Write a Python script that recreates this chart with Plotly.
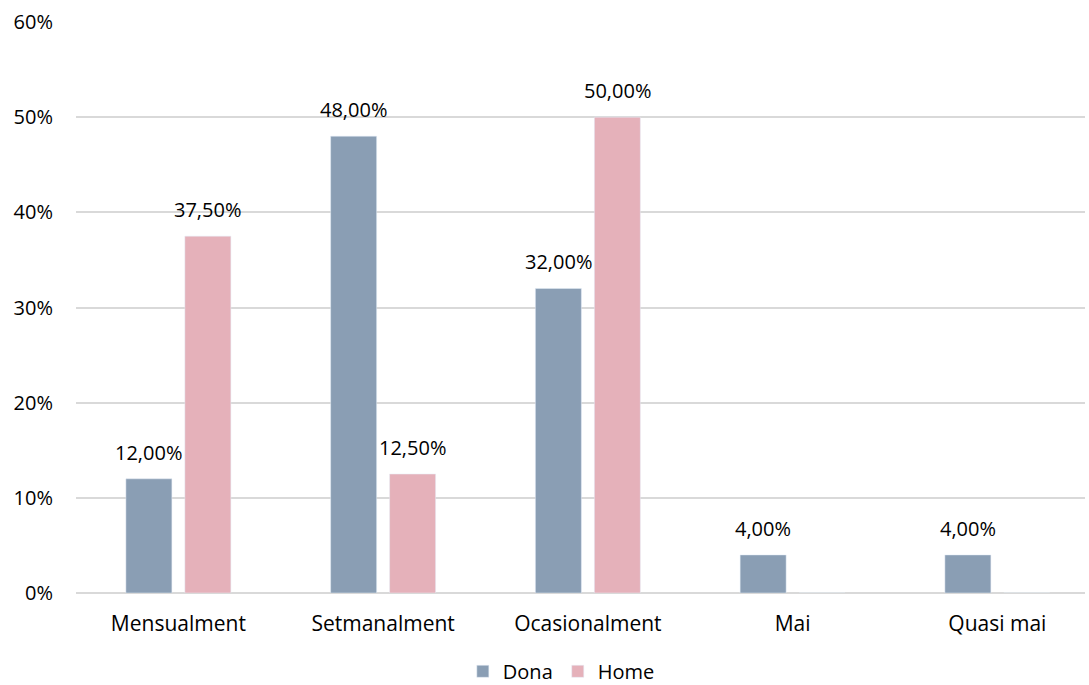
import plotly.graph_objects as go

categories = ["Mensualment", "Setmanalment", "Ocasionalment", "Mai", "Quasi mai"]
dona = [0.12, 0.48, 0.32, 0.04, 0.04]
home = [0.375, 0.125, 0.50, 0.0, 0.0]
y_ticks = [0, 0.1, 0.2, 0.3, 0.4, 0.5, 0.6]
y_ticklabels = ["0%", "10%", "20%", "30%", "40%", "50%", "60%"]

DONA_C = "#8A9EB4"
HOME_C = "#E5B1BA"
FONT = "Open Sans"
FS = 20

def fmt(v):
    return f"{v*100:.2f}%".replace(".", ",")

fig = go.Figure()
fig.add_trace(go.Bar(name="Dona", x=categories, y=dona, marker_color=DONA_C))
fig.add_trace(go.Bar(name="Home", x=categories, y=home, marker_color=HOME_C))

annotations = []
for vals, shift in ((dona, -29.5), (home, 29.5)):
    for c, v in zip(categories, vals):
        if v > 0:
            annotations.append(dict(x=c, y=v, xref="x", yref="y", text=fmt(v),
                                    showarrow=False, xshift=shift, yshift=11,
                                    yanchor="bottom", xanchor="center",
                                    font=dict(family=FONT, size=FS, color="#000000")))

fig.update_layout(
    width=1089, height=685,
    margin=dict(l=76, r=4, t=22, b=92),
    plot_bgcolor="white", paper_bgcolor="white",
    barmode="group", bargap=0.424, bargroupgap=0.22,
    font=dict(family=FONT, size=FS, color="#000000"),
    showlegend=True,
    legend=dict(orientation="h", x=0.481, xanchor="center", yref="container",
                y=0.02, yanchor="middle",
                font=dict(family=FONT, size=FS, color="#000000"), itemwidth=30,
                traceorder="normal"),
    annotations=annotations,
)
fig.update_xaxes(range=[-0.5, 4.428], showgrid=False, showline=False, ticks="",
                 tickfont=dict(family=FONT, size=21, color="#000000"), ticklabelstandoff=16)
fig.update_yaxes(range=[0, 0.6], tickvals=y_ticks, ticktext=y_ticklabels,
                 showgrid=True, gridcolor="#D9D9D9", gridwidth=1.5, zeroline=True,
                 zerolinecolor="#D9D9D9", zerolinewidth=1.5, showline=False,
                 tickfont=dict(family=FONT, size=FS, color="#000000"), ticklabelstandoff=22)

fig.write_html("out.html", config={"displayModeBar": False},
               post_script="document.body.style.margin='0';")
